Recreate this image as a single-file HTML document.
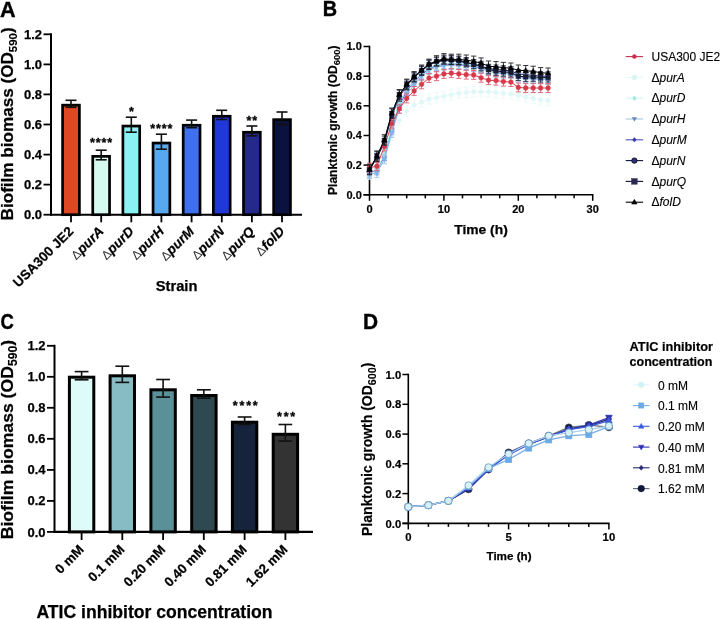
<!DOCTYPE html>
<html><head><meta charset="utf-8"><style>
html,body{margin:0;padding:0;background:#fff;width:720px;height:619px;overflow:hidden}
svg{display:block;font-family:"Liberation Sans", sans-serif;will-change:transform}
</style></head><body>
<svg width="720" height="619" viewBox="0 0 720 619">
<rect width="720" height="619" fill="#fff"/>
<text transform="translate(0.1,16.5) scale(0.97,1)" font-size="22.3" font-weight="bold" stroke="#000" stroke-width="0.4">A</text>
<line x1="51" y1="33.3" x2="51" y2="215.7" stroke="#000" stroke-width="2"/>
<line x1="43.5" y1="214.7" x2="51" y2="214.7" stroke="#000" stroke-width="1.8"/>
<text x="42" y="219.29999999999998" font-size="13" font-weight="bold" font-style="normal" text-anchor="end" fill="#000" stroke="#000" stroke-width="0.25">0.0</text>
<line x1="43.5" y1="184.6" x2="51" y2="184.6" stroke="#000" stroke-width="1.8"/>
<text x="42" y="189.23333333333332" font-size="13" font-weight="bold" font-style="normal" text-anchor="end" fill="#000" stroke="#000" stroke-width="0.25">0.2</text>
<line x1="43.5" y1="154.6" x2="51" y2="154.6" stroke="#000" stroke-width="1.8"/>
<text x="42" y="159.16666666666666" font-size="13" font-weight="bold" font-style="normal" text-anchor="end" fill="#000" stroke="#000" stroke-width="0.25">0.4</text>
<line x1="43.5" y1="124.5" x2="51" y2="124.5" stroke="#000" stroke-width="1.8"/>
<text x="42" y="129.1" font-size="13" font-weight="bold" font-style="normal" text-anchor="end" fill="#000" stroke="#000" stroke-width="0.25">0.6</text>
<line x1="43.5" y1="94.4" x2="51" y2="94.4" stroke="#000" stroke-width="1.8"/>
<text x="42" y="99.03333333333333" font-size="13" font-weight="bold" font-style="normal" text-anchor="end" fill="#000" stroke="#000" stroke-width="0.25">0.8</text>
<line x1="43.5" y1="64.4" x2="51" y2="64.4" stroke="#000" stroke-width="1.8"/>
<text x="42" y="68.96666666666667" font-size="13" font-weight="bold" font-style="normal" text-anchor="end" fill="#000" stroke="#000" stroke-width="0.25">1.0</text>
<line x1="43.5" y1="34.3" x2="51" y2="34.3" stroke="#000" stroke-width="1.8"/>
<text x="42" y="38.899999999999984" font-size="13" font-weight="bold" font-style="normal" text-anchor="end" fill="#000" stroke="#000" stroke-width="0.25">1.2</text>
<line x1="50" y1="214.7" x2="302" y2="214.7" stroke="#000" stroke-width="2"/>
<rect x="62.60" y="105.15" width="16.8" height="109.55" fill="#E04825" stroke="#000" stroke-width="2.7"/>
<line x1="71.0" y1="100.3" x2="71.0" y2="107.3" stroke="#111" stroke-width="1.6"/>
<line x1="65.5" y1="100.3" x2="76.5" y2="100.3" stroke="#111" stroke-width="1.6"/>
<line x1="65.5" y1="107.3" x2="76.5" y2="107.3" stroke="#111" stroke-width="1.6"/>
<line x1="71.0" y1="214.7" x2="71.0" y2="222.3" stroke="#000" stroke-width="1.8"/>
<text transform="translate(74.3,232.2) rotate(-45)" font-size="13.5" font-weight="bold" text-anchor="end" stroke="#000" stroke-width="0.25">USA300 JE2</text>
<rect x="92.75" y="156.35" width="16.8" height="58.35" fill="#D5FAF0" stroke="#000" stroke-width="2.7"/>
<line x1="101.2" y1="150.2" x2="101.2" y2="159.8" stroke="#111" stroke-width="1.6"/>
<line x1="95.7" y1="150.2" x2="106.7" y2="150.2" stroke="#111" stroke-width="1.6"/>
<line x1="95.7" y1="159.8" x2="106.7" y2="159.8" stroke="#111" stroke-width="1.6"/>
<line x1="101.2" y1="214.7" x2="101.2" y2="222.3" stroke="#000" stroke-width="1.8"/>
<text transform="translate(104.5,232.2) rotate(-45)" font-size="13.5" font-weight="bold" text-anchor="end"><tspan font-weight="normal" font-size="12.5" fill="#333">Δ</tspan><tspan font-style="italic" stroke="#000" stroke-width="0.25">purA</tspan></text>
<rect x="122.90" y="126.05" width="16.8" height="88.65" fill="#8AF2F2" stroke="#000" stroke-width="2.7"/>
<line x1="131.3" y1="117.2" x2="131.3" y2="132.2" stroke="#111" stroke-width="1.6"/>
<line x1="125.8" y1="117.2" x2="136.8" y2="117.2" stroke="#111" stroke-width="1.6"/>
<line x1="125.8" y1="132.2" x2="136.8" y2="132.2" stroke="#111" stroke-width="1.6"/>
<line x1="131.3" y1="214.7" x2="131.3" y2="222.3" stroke="#000" stroke-width="1.8"/>
<text transform="translate(134.6,232.2) rotate(-45)" font-size="13.5" font-weight="bold" text-anchor="end"><tspan font-weight="normal" font-size="12.5" fill="#333">Δ</tspan><tspan font-style="italic" stroke="#000" stroke-width="0.25">purD</tspan></text>
<rect x="153.05" y="143.05" width="16.8" height="71.65" fill="#58A8F0" stroke="#000" stroke-width="2.7"/>
<line x1="161.4" y1="134.2" x2="161.4" y2="149.2" stroke="#111" stroke-width="1.6"/>
<line x1="155.9" y1="134.2" x2="166.9" y2="134.2" stroke="#111" stroke-width="1.6"/>
<line x1="155.9" y1="149.2" x2="166.9" y2="149.2" stroke="#111" stroke-width="1.6"/>
<line x1="161.4" y1="214.7" x2="161.4" y2="222.3" stroke="#000" stroke-width="1.8"/>
<text transform="translate(164.8,232.2) rotate(-45)" font-size="13.5" font-weight="bold" text-anchor="end"><tspan font-weight="normal" font-size="12.5" fill="#333">Δ</tspan><tspan font-style="italic" stroke="#000" stroke-width="0.25">purH</tspan></text>
<rect x="183.20" y="125.25" width="16.8" height="89.45" fill="#3E70F0" stroke="#000" stroke-width="2.7"/>
<line x1="191.6" y1="120.1" x2="191.6" y2="127.7" stroke="#111" stroke-width="1.6"/>
<line x1="186.1" y1="120.1" x2="197.1" y2="120.1" stroke="#111" stroke-width="1.6"/>
<line x1="186.1" y1="127.7" x2="197.1" y2="127.7" stroke="#111" stroke-width="1.6"/>
<line x1="191.6" y1="214.7" x2="191.6" y2="222.3" stroke="#000" stroke-width="1.8"/>
<text transform="translate(194.9,232.2) rotate(-45)" font-size="13.5" font-weight="bold" text-anchor="end"><tspan font-weight="normal" font-size="12.5" fill="#333">Δ</tspan><tspan font-style="italic" stroke="#000" stroke-width="0.25">purM</tspan></text>
<rect x="213.35" y="116.25" width="16.8" height="98.45" fill="#2038D8" stroke="#000" stroke-width="2.7"/>
<line x1="221.8" y1="110.3" x2="221.8" y2="119.5" stroke="#111" stroke-width="1.6"/>
<line x1="216.2" y1="110.3" x2="227.2" y2="110.3" stroke="#111" stroke-width="1.6"/>
<line x1="216.2" y1="119.5" x2="227.2" y2="119.5" stroke="#111" stroke-width="1.6"/>
<line x1="221.8" y1="214.7" x2="221.8" y2="222.3" stroke="#000" stroke-width="1.8"/>
<text transform="translate(225.1,232.2) rotate(-45)" font-size="13.5" font-weight="bold" text-anchor="end"><tspan font-weight="normal" font-size="12.5" fill="#333">Δ</tspan><tspan font-style="italic" stroke="#000" stroke-width="0.25">purN</tspan></text>
<rect x="243.50" y="132.25" width="16.8" height="82.45" fill="#252A8A" stroke="#000" stroke-width="2.7"/>
<line x1="251.9" y1="126" x2="251.9" y2="135.8" stroke="#111" stroke-width="1.6"/>
<line x1="246.4" y1="126" x2="257.4" y2="126" stroke="#111" stroke-width="1.6"/>
<line x1="246.4" y1="135.8" x2="257.4" y2="135.8" stroke="#111" stroke-width="1.6"/>
<line x1="251.9" y1="214.7" x2="251.9" y2="222.3" stroke="#000" stroke-width="1.8"/>
<text transform="translate(255.2,232.2) rotate(-45)" font-size="13.5" font-weight="bold" text-anchor="end"><tspan font-weight="normal" font-size="12.5" fill="#333">Δ</tspan><tspan font-style="italic" stroke="#000" stroke-width="0.25">purQ</tspan></text>
<rect x="273.65" y="119.65" width="16.8" height="95.05" fill="#0A1240" stroke="#000" stroke-width="2.7"/>
<line x1="282.0" y1="112" x2="282.0" y2="124.6" stroke="#111" stroke-width="1.6"/>
<line x1="276.5" y1="112" x2="287.5" y2="112" stroke="#111" stroke-width="1.6"/>
<line x1="276.5" y1="124.6" x2="287.5" y2="124.6" stroke="#111" stroke-width="1.6"/>
<line x1="282.0" y1="214.7" x2="282.0" y2="222.3" stroke="#000" stroke-width="1.8"/>
<text transform="translate(285.3,232.2) rotate(-45)" font-size="13.5" font-weight="bold" text-anchor="end"><tspan font-weight="normal" font-size="12.5" fill="#333">Δ</tspan><tspan font-style="italic" stroke="#000" stroke-width="0.25">folD</tspan></text>
<text x="101.6" y="146.8" font-size="12.5" font-weight="bold" font-style="normal" text-anchor="middle" fill="#000" stroke="#000" stroke-width="0.3" letter-spacing="0.9">****</text>
<text x="131.5" y="115.8" font-size="12.5" font-weight="bold" font-style="normal" text-anchor="middle" fill="#000" stroke="#000" stroke-width="0.3">*</text>
<text x="161.8" y="132.8" font-size="12.5" font-weight="bold" font-style="normal" text-anchor="middle" fill="#000" stroke="#000" stroke-width="0.3" letter-spacing="0.9">****</text>
<text x="252.3" y="124.8" font-size="12.5" font-weight="bold" font-style="normal" text-anchor="middle" fill="#000" stroke="#000" stroke-width="0.3" letter-spacing="0.9">**</text>
<text transform="translate(12.9,220.4) rotate(-90)" font-size="17.2" font-weight="bold" stroke="#000" stroke-width="0.25" textLength="193" lengthAdjust="spacingAndGlyphs">Biofilm biomass (OD<tspan font-size="11.5" dy="4.2" stroke-width="0.15">590</tspan><tspan dy="-4.2">)</tspan></text>
<text x="176.6" y="290.8" font-size="14.7" font-weight="bold" font-style="normal" text-anchor="middle" fill="#000" stroke="#000" stroke-width="0.25">Strain</text>
<text transform="translate(322.8,15.9) scale(0.92,1)" font-size="21.6" font-weight="bold" stroke="#000" stroke-width="0.4">B</text>
<line x1="369.5" y1="45.7" x2="369.5" y2="195.8" stroke="#000" stroke-width="1.6"/>
<line x1="363.5" y1="194.8" x2="369.5" y2="194.8" stroke="#000" stroke-width="1.5"/>
<text x="361.8" y="198.70000000000002" font-size="11" font-weight="bold" font-style="normal" text-anchor="end" fill="#000" stroke="#000" stroke-width="0.2">0.0</text>
<line x1="363.5" y1="165.1" x2="369.5" y2="165.1" stroke="#000" stroke-width="1.5"/>
<text x="361.8" y="169.04000000000002" font-size="11" font-weight="bold" font-style="normal" text-anchor="end" fill="#000" stroke="#000" stroke-width="0.2">0.2</text>
<line x1="363.5" y1="135.5" x2="369.5" y2="135.5" stroke="#000" stroke-width="1.5"/>
<text x="361.8" y="139.38000000000002" font-size="11" font-weight="bold" font-style="normal" text-anchor="end" fill="#000" stroke="#000" stroke-width="0.2">0.4</text>
<line x1="363.5" y1="105.8" x2="369.5" y2="105.8" stroke="#000" stroke-width="1.5"/>
<text x="361.8" y="109.72" font-size="11" font-weight="bold" font-style="normal" text-anchor="end" fill="#000" stroke="#000" stroke-width="0.2">0.6</text>
<line x1="363.5" y1="76.2" x2="369.5" y2="76.2" stroke="#000" stroke-width="1.5"/>
<text x="361.8" y="80.06" font-size="11" font-weight="bold" font-style="normal" text-anchor="end" fill="#000" stroke="#000" stroke-width="0.2">0.8</text>
<line x1="363.5" y1="46.5" x2="369.5" y2="46.5" stroke="#000" stroke-width="1.5"/>
<text x="361.8" y="50.4" font-size="11" font-weight="bold" font-style="normal" text-anchor="end" fill="#000" stroke="#000" stroke-width="0.2">1.0</text>
<line x1="363.5" y1="194.8" x2="593.4" y2="194.8" stroke="#000" stroke-width="1.6"/>
<line x1="369.5" y1="194.8" x2="369.5" y2="200.8" stroke="#000" stroke-width="1.5"/>
<text x="369.5" y="212.6" font-size="11" font-weight="bold" font-style="normal" text-anchor="middle" fill="#000" stroke="#000" stroke-width="0.2">0</text>
<line x1="388.1" y1="194.8" x2="388.1" y2="198.3" stroke="#000" stroke-width="1.5"/>
<line x1="406.7" y1="194.8" x2="406.7" y2="198.3" stroke="#000" stroke-width="1.5"/>
<line x1="425.3" y1="194.8" x2="425.3" y2="198.3" stroke="#000" stroke-width="1.5"/>
<line x1="443.9" y1="194.8" x2="443.9" y2="200.8" stroke="#000" stroke-width="1.5"/>
<text x="443.9" y="212.6" font-size="11" font-weight="bold" font-style="normal" text-anchor="middle" fill="#000" stroke="#000" stroke-width="0.2">10</text>
<line x1="462.5" y1="194.8" x2="462.5" y2="198.3" stroke="#000" stroke-width="1.5"/>
<line x1="481.1" y1="194.8" x2="481.1" y2="198.3" stroke="#000" stroke-width="1.5"/>
<line x1="499.7" y1="194.8" x2="499.7" y2="198.3" stroke="#000" stroke-width="1.5"/>
<line x1="518.3" y1="194.8" x2="518.3" y2="200.8" stroke="#000" stroke-width="1.5"/>
<text x="518.3" y="212.6" font-size="11" font-weight="bold" font-style="normal" text-anchor="middle" fill="#000" stroke="#000" stroke-width="0.2">20</text>
<line x1="536.9" y1="194.8" x2="536.9" y2="198.3" stroke="#000" stroke-width="1.5"/>
<line x1="555.5" y1="194.8" x2="555.5" y2="198.3" stroke="#000" stroke-width="1.5"/>
<line x1="574.1" y1="194.8" x2="574.1" y2="198.3" stroke="#000" stroke-width="1.5"/>
<line x1="592.7" y1="194.8" x2="592.7" y2="200.8" stroke="#000" stroke-width="1.5"/>
<text x="592.7" y="212.6" font-size="11" font-weight="bold" font-style="normal" text-anchor="middle" fill="#000" stroke="#000" stroke-width="0.2">30</text>
<text x="481" y="233.7" font-size="13.5" font-weight="bold" font-style="normal" text-anchor="middle" fill="#000" textLength="53.5" lengthAdjust="spacingAndGlyphs" stroke="#000" stroke-width="0.25">Time (h)</text>
<text transform="translate(336.8,195) rotate(-90)" font-size="12.2" font-weight="bold" stroke="#000" stroke-width="0.2" textLength="149.5" lengthAdjust="spacingAndGlyphs">Planktonic growth (OD<tspan font-size="9.5" dy="3.3" stroke-width="0.1">600</tspan><tspan dy="-3.3">)</tspan></text>
<polyline points="369.5,174.0 376.9,172.6 384.4,159.2 391.8,135.5 399.3,120.7 406.7,111.0 414.1,105.1 421.6,102.1 429.0,99.1 436.5,97.7 443.9,96.2 451.3,94.7 458.8,93.2 466.2,92.5 473.7,91.7 481.1,91.7 488.5,91.7 496.0,92.5 503.4,93.2 510.9,94.0 518.3,95.4 525.7,96.9 533.2,98.4 540.6,99.9 548.1,100.6" fill="none" stroke="#E6F8F8" stroke-width="1"/>
<path d="M369.5,168.8V179.2M366.9,168.8h5.2M366.9,179.2h5.2M376.9,167.4V177.7M374.3,167.4h5.2M374.3,177.7h5.2M384.4,154.0V164.4M381.8,154.0h5.2M381.8,164.4h5.2M391.8,130.3V140.7M389.2,130.3h5.2M389.2,140.7h5.2M399.3,115.5V125.8M396.7,115.5h5.2M396.7,125.8h5.2M406.7,105.8V116.2M404.1,105.8h5.2M404.1,116.2h5.2M414.1,99.9V110.3M411.5,99.9h5.2M411.5,110.3h5.2M421.6,96.9V107.3M419.0,96.9h5.2M419.0,107.3h5.2M429.0,94.0V104.3M426.4,94.0h5.2M426.4,104.3h5.2M436.5,92.5V102.9M433.9,92.5h5.2M433.9,102.9h5.2M443.9,91.0V101.4M441.3,91.0h5.2M441.3,101.4h5.2M451.3,89.5V99.9M448.7,89.5h5.2M448.7,99.9h5.2M458.8,88.0V98.4M456.2,88.0h5.2M456.2,98.4h5.2M466.2,87.3V97.7M463.6,87.3h5.2M463.6,97.7h5.2M473.7,86.5V96.9M471.1,86.5h5.2M471.1,96.9h5.2M481.1,86.5V96.9M478.5,86.5h5.2M478.5,96.9h5.2M488.5,86.5V96.9M485.9,86.5h5.2M485.9,96.9h5.2M496.0,87.3V97.7M493.4,87.3h5.2M493.4,97.7h5.2M503.4,88.0V98.4M500.8,88.0h5.2M500.8,98.4h5.2M510.9,88.8V99.1M508.3,88.8h5.2M508.3,99.1h5.2M518.3,90.2V100.6M515.7,90.2h5.2M515.7,100.6h5.2M525.7,91.7V102.1M523.1,91.7h5.2M523.1,102.1h5.2M533.2,93.2V103.6M530.6,93.2h5.2M530.6,103.6h5.2M540.6,94.7V105.1M538.0,94.7h5.2M538.0,105.1h5.2M548.1,95.4V105.8M545.5,95.4h5.2M545.5,105.8h5.2" stroke="#EAF9F9" stroke-width="0.9" fill="none"/>
<path d="M367.2,174.0a2.3,2.3 0 1,0 4.6,0a2.3,2.3 0 1,0 -4.6,0ZM374.6,172.6a2.3,2.3 0 1,0 4.6,0a2.3,2.3 0 1,0 -4.6,0ZM382.1,159.2a2.3,2.3 0 1,0 4.6,0a2.3,2.3 0 1,0 -4.6,0ZM389.5,135.5a2.3,2.3 0 1,0 4.6,0a2.3,2.3 0 1,0 -4.6,0ZM397.0,120.7a2.3,2.3 0 1,0 4.6,0a2.3,2.3 0 1,0 -4.6,0ZM404.4,111.0a2.3,2.3 0 1,0 4.6,0a2.3,2.3 0 1,0 -4.6,0ZM411.8,105.1a2.3,2.3 0 1,0 4.6,0a2.3,2.3 0 1,0 -4.6,0ZM419.3,102.1a2.3,2.3 0 1,0 4.6,0a2.3,2.3 0 1,0 -4.6,0ZM426.7,99.1a2.3,2.3 0 1,0 4.6,0a2.3,2.3 0 1,0 -4.6,0ZM434.2,97.7a2.3,2.3 0 1,0 4.6,0a2.3,2.3 0 1,0 -4.6,0ZM441.6,96.2a2.3,2.3 0 1,0 4.6,0a2.3,2.3 0 1,0 -4.6,0ZM449.0,94.7a2.3,2.3 0 1,0 4.6,0a2.3,2.3 0 1,0 -4.6,0ZM456.5,93.2a2.3,2.3 0 1,0 4.6,0a2.3,2.3 0 1,0 -4.6,0ZM463.9,92.5a2.3,2.3 0 1,0 4.6,0a2.3,2.3 0 1,0 -4.6,0ZM471.4,91.7a2.3,2.3 0 1,0 4.6,0a2.3,2.3 0 1,0 -4.6,0ZM478.8,91.7a2.3,2.3 0 1,0 4.6,0a2.3,2.3 0 1,0 -4.6,0ZM486.2,91.7a2.3,2.3 0 1,0 4.6,0a2.3,2.3 0 1,0 -4.6,0ZM493.7,92.5a2.3,2.3 0 1,0 4.6,0a2.3,2.3 0 1,0 -4.6,0ZM501.1,93.2a2.3,2.3 0 1,0 4.6,0a2.3,2.3 0 1,0 -4.6,0ZM508.6,94.0a2.3,2.3 0 1,0 4.6,0a2.3,2.3 0 1,0 -4.6,0ZM516.0,95.4a2.3,2.3 0 1,0 4.6,0a2.3,2.3 0 1,0 -4.6,0ZM523.4,96.9a2.3,2.3 0 1,0 4.6,0a2.3,2.3 0 1,0 -4.6,0ZM530.9,98.4a2.3,2.3 0 1,0 4.6,0a2.3,2.3 0 1,0 -4.6,0ZM538.3,99.9a2.3,2.3 0 1,0 4.6,0a2.3,2.3 0 1,0 -4.6,0ZM545.8,100.6a2.3,2.3 0 1,0 4.6,0a2.3,2.3 0 1,0 -4.6,0Z" fill="#E0F7F7" stroke="#E0F7F7" stroke-width="0.4"/>
<polyline points="369.5,172.6 376.9,170.3 384.4,156.2 391.8,129.5 399.3,105.8 406.7,91.0 414.1,82.1 421.6,74.7 429.0,68.7 436.5,65.8 443.9,64.3 451.3,64.3 458.8,64.3 466.2,65.0 473.7,66.5 481.1,68.0 488.5,70.2 496.0,71.7 503.4,72.5 510.9,73.2 518.3,76.2 525.7,77.6 533.2,78.4 540.6,79.1 548.1,79.9" fill="none" stroke="#6060C8" stroke-width="1"/>
<path d="M369.5,168.1V177.0M366.9,168.1h5.2M366.9,177.0h5.2M376.9,165.9V174.8M374.3,165.9h5.2M374.3,174.8h5.2M384.4,151.8V160.7M381.8,151.8h5.2M381.8,160.7h5.2M391.8,125.1V134.0M389.2,125.1h5.2M389.2,134.0h5.2M399.3,101.4V110.3M396.7,101.4h5.2M396.7,110.3h5.2M406.7,86.5V95.4M404.1,86.5h5.2M404.1,95.4h5.2M414.1,77.6V86.5M411.5,77.6h5.2M411.5,86.5h5.2M421.6,70.2V79.1M419.0,70.2h5.2M419.0,79.1h5.2M429.0,64.3V73.2M426.4,64.3h5.2M426.4,73.2h5.2M436.5,61.3V70.2M433.9,61.3h5.2M433.9,70.2h5.2M443.9,59.8V68.7M441.3,59.8h5.2M441.3,68.7h5.2M451.3,59.8V68.7M448.7,59.8h5.2M448.7,68.7h5.2M458.8,59.8V68.7M456.2,59.8h5.2M456.2,68.7h5.2M466.2,60.6V69.5M463.6,60.6h5.2M463.6,69.5h5.2M473.7,62.1V71.0M471.1,62.1h5.2M471.1,71.0h5.2M481.1,63.6V72.5M478.5,63.6h5.2M478.5,72.5h5.2M488.5,65.8V74.7M485.9,65.8h5.2M485.9,74.7h5.2M496.0,67.3V76.2M493.4,67.3h5.2M493.4,76.2h5.2M503.4,68.0V76.9M500.8,68.0h5.2M500.8,76.9h5.2M510.9,68.7V77.6M508.3,68.7h5.2M508.3,77.6h5.2M518.3,71.7V80.6M515.7,71.7h5.2M515.7,80.6h5.2M525.7,73.2V82.1M523.1,73.2h5.2M523.1,82.1h5.2M533.2,73.9V82.8M530.6,73.9h5.2M530.6,82.8h5.2M540.6,74.7V83.6M538.0,74.7h5.2M538.0,83.6h5.2M548.1,75.4V84.3M545.5,75.4h5.2M545.5,84.3h5.2" stroke="#8080D8" stroke-width="0.9" fill="none"/>
<path d="M369.5,169.9L371.7,172.6L369.5,175.2L367.3,172.6ZM376.9,167.7L379.1,170.3L376.9,173.0L374.7,170.3ZM384.4,153.6L386.6,156.2L384.4,158.9L382.2,156.2ZM391.8,126.9L394.0,129.5L391.8,132.2L389.6,129.5ZM399.3,103.2L401.5,105.8L399.3,108.5L397.1,105.8ZM406.7,88.4L408.9,91.0L406.7,93.6L404.5,91.0ZM414.1,79.5L416.3,82.1L414.1,84.7L411.9,82.1ZM421.6,72.0L423.8,74.7L421.6,77.3L419.4,74.7ZM429.0,66.1L431.2,68.7L429.0,71.4L426.8,68.7ZM436.5,63.1L438.7,65.8L436.5,68.4L434.3,65.8ZM443.9,61.7L446.1,64.3L443.9,66.9L441.7,64.3ZM451.3,61.7L453.5,64.3L451.3,66.9L449.1,64.3ZM458.8,61.7L461.0,64.3L458.8,66.9L456.6,64.3ZM466.2,62.4L468.4,65.0L466.2,67.7L464.0,65.0ZM473.7,63.9L475.9,66.5L473.7,69.2L471.5,66.5ZM481.1,65.4L483.3,68.0L481.1,70.6L478.9,68.0ZM488.5,67.6L490.7,70.2L488.5,72.9L486.3,70.2ZM496.0,69.1L498.2,71.7L496.0,74.4L493.8,71.7ZM503.4,69.8L505.6,72.5L503.4,75.1L501.2,72.5ZM510.9,70.6L513.1,73.2L510.9,75.8L508.7,73.2ZM518.3,73.5L520.5,76.2L518.3,78.8L516.1,76.2ZM525.7,75.0L527.9,77.6L525.7,80.3L523.5,77.6ZM533.2,75.7L535.4,78.4L533.2,81.0L531.0,78.4ZM540.6,76.5L542.8,79.1L540.6,81.8L538.4,79.1ZM548.1,77.2L550.3,79.9L548.1,82.5L545.9,79.9Z" fill="#5050C0" stroke="#5050C0" stroke-width="0.4"/>
<polyline points="369.5,172.6 376.9,169.6 384.4,154.8 391.8,128.1 399.3,102.9 406.7,89.5 414.1,80.6 421.6,73.2 429.0,68.0 436.5,65.0 443.9,63.6 451.3,63.6 458.8,63.6 466.2,64.3 473.7,65.8 481.1,67.3 488.5,69.5 496.0,71.0 503.4,71.7 510.9,72.5 518.3,76.2 525.7,76.9 533.2,77.6 540.6,78.4 548.1,79.1" fill="none" stroke="#98E8E4" stroke-width="1"/>
<path d="M369.5,168.1V177.0M366.9,168.1h5.2M366.9,177.0h5.2M376.9,165.1V174.0M374.3,165.1h5.2M374.3,174.0h5.2M384.4,150.3V159.2M381.8,150.3h5.2M381.8,159.2h5.2M391.8,123.6V132.5M389.2,123.6h5.2M389.2,132.5h5.2M399.3,98.4V107.3M396.7,98.4h5.2M396.7,107.3h5.2M406.7,85.1V94.0M404.1,85.1h5.2M404.1,94.0h5.2M414.1,76.2V85.1M411.5,76.2h5.2M411.5,85.1h5.2M421.6,68.7V77.6M419.0,68.7h5.2M419.0,77.6h5.2M429.0,63.6V72.5M426.4,63.6h5.2M426.4,72.5h5.2M436.5,60.6V69.5M433.9,60.6h5.2M433.9,69.5h5.2M443.9,59.1V68.0M441.3,59.1h5.2M441.3,68.0h5.2M451.3,59.1V68.0M448.7,59.1h5.2M448.7,68.0h5.2M458.8,59.1V68.0M456.2,59.1h5.2M456.2,68.0h5.2M466.2,59.8V68.7M463.6,59.8h5.2M463.6,68.7h5.2M473.7,61.3V70.2M471.1,61.3h5.2M471.1,70.2h5.2M481.1,62.8V71.7M478.5,62.8h5.2M478.5,71.7h5.2M488.5,65.0V73.9M485.9,65.0h5.2M485.9,73.9h5.2M496.0,66.5V75.4M493.4,66.5h5.2M493.4,75.4h5.2M503.4,67.3V76.2M500.8,67.3h5.2M500.8,76.2h5.2M510.9,68.0V76.9M508.3,68.0h5.2M508.3,76.9h5.2M518.3,71.7V80.6M515.7,71.7h5.2M515.7,80.6h5.2M525.7,72.5V81.4M523.1,72.5h5.2M523.1,81.4h5.2M533.2,73.2V82.1M530.6,73.2h5.2M530.6,82.1h5.2M540.6,73.9V82.8M538.0,73.9h5.2M538.0,82.8h5.2M548.1,74.7V83.6M545.5,74.7h5.2M545.5,83.6h5.2" stroke="#B0EEEA" stroke-width="0.9" fill="none"/>
<path d="M369.5,169.8L371.8,172.6L369.5,175.3L367.2,172.6ZM376.9,166.8L379.2,169.6L376.9,172.3L374.6,169.6ZM384.4,152.0L386.7,154.8L384.4,157.5L382.1,154.8ZM391.8,125.3L394.1,128.1L391.8,130.8L389.5,128.1ZM399.3,100.1L401.6,102.9L399.3,105.6L397.0,102.9ZM406.7,86.7L409.0,89.5L406.7,92.3L404.4,89.5ZM414.1,77.8L416.4,80.6L414.1,83.4L411.8,80.6ZM421.6,70.4L423.9,73.2L421.6,76.0L419.3,73.2ZM429.0,65.2L431.3,68.0L429.0,70.8L426.7,68.0ZM436.5,62.3L438.8,65.0L436.5,67.8L434.2,65.0ZM443.9,60.8L446.2,63.6L443.9,66.3L441.6,63.6ZM451.3,60.8L453.6,63.6L451.3,66.3L449.0,63.6ZM458.8,60.8L461.1,63.6L458.8,66.3L456.5,63.6ZM466.2,61.5L468.5,64.3L466.2,67.1L463.9,64.3ZM473.7,63.0L476.0,65.8L473.7,68.5L471.4,65.8ZM481.1,64.5L483.4,67.3L481.1,70.0L478.8,67.3ZM488.5,66.7L490.8,69.5L488.5,72.2L486.2,69.5ZM496.0,68.2L498.3,71.0L496.0,73.7L493.7,71.0ZM503.4,69.0L505.7,71.7L503.4,74.5L501.1,71.7ZM510.9,69.7L513.2,72.5L510.9,75.2L508.6,72.5ZM518.3,73.4L520.6,76.2L518.3,78.9L516.0,76.2ZM525.7,74.1L528.0,76.9L525.7,79.7L523.4,76.9ZM533.2,74.9L535.5,77.6L533.2,80.4L530.9,77.6ZM540.6,75.6L542.9,78.4L540.6,81.1L538.3,78.4ZM548.1,76.4L550.4,79.1L548.1,81.9L545.8,79.1Z" fill="#98E8E4" stroke="#98E8E4" stroke-width="0.4"/>
<polyline points="369.5,170.3 376.9,157.7 384.4,142.9 391.8,116.2 399.3,96.9 406.7,85.8 414.1,77.6 421.6,71.0 429.0,65.0 436.5,62.1 443.9,60.6 451.3,60.6 458.8,61.3 466.2,62.8 473.7,64.3 481.1,65.8 488.5,68.7 496.0,69.5 503.4,70.2 510.9,71.0 518.3,73.9 525.7,74.7 533.2,75.4 540.6,76.2 548.1,76.2" fill="none" stroke="#1A1A48" stroke-width="1"/>
<path d="M369.5,165.9V174.8M366.9,165.9h5.2M366.9,174.8h5.2M376.9,153.3V162.2M374.3,153.3h5.2M374.3,162.2h5.2M384.4,138.4V147.3M381.8,138.4h5.2M381.8,147.3h5.2M391.8,111.8V120.7M389.2,111.8h5.2M389.2,120.7h5.2M399.3,92.5V101.4M396.7,92.5h5.2M396.7,101.4h5.2M406.7,81.4V90.2M404.1,81.4h5.2M404.1,90.2h5.2M414.1,73.2V82.1M411.5,73.2h5.2M411.5,82.1h5.2M421.6,66.5V75.4M419.0,66.5h5.2M419.0,75.4h5.2M429.0,60.6V69.5M426.4,60.6h5.2M426.4,69.5h5.2M436.5,57.6V66.5M433.9,57.6h5.2M433.9,66.5h5.2M443.9,56.1V65.0M441.3,56.1h5.2M441.3,65.0h5.2M451.3,56.1V65.0M448.7,56.1h5.2M448.7,65.0h5.2M458.8,56.9V65.8M456.2,56.9h5.2M456.2,65.8h5.2M466.2,58.4V67.3M463.6,58.4h5.2M463.6,67.3h5.2M473.7,59.8V68.7M471.1,59.8h5.2M471.1,68.7h5.2M481.1,61.3V70.2M478.5,61.3h5.2M478.5,70.2h5.2M488.5,64.3V73.2M485.9,64.3h5.2M485.9,73.2h5.2M496.0,65.0V73.9M493.4,65.0h5.2M493.4,73.9h5.2M503.4,65.8V74.7M500.8,65.8h5.2M500.8,74.7h5.2M510.9,66.5V75.4M508.3,66.5h5.2M508.3,75.4h5.2M518.3,69.5V78.4M515.7,69.5h5.2M515.7,78.4h5.2M525.7,70.2V79.1M523.1,70.2h5.2M523.1,79.1h5.2M533.2,71.0V79.9M530.6,71.0h5.2M530.6,79.9h5.2M540.6,71.7V80.6M538.0,71.7h5.2M538.0,80.6h5.2M548.1,71.7V80.6M545.5,71.7h5.2M545.5,80.6h5.2" stroke="#404070" stroke-width="0.9" fill="none"/>
<path d="M367.1,170.3a2.4,2.4 0 1,0 4.8,0a2.4,2.4 0 1,0 -4.8,0ZM374.5,157.7a2.4,2.4 0 1,0 4.8,0a2.4,2.4 0 1,0 -4.8,0ZM382.0,142.9a2.4,2.4 0 1,0 4.8,0a2.4,2.4 0 1,0 -4.8,0ZM389.4,116.2a2.4,2.4 0 1,0 4.8,0a2.4,2.4 0 1,0 -4.8,0ZM396.9,96.9a2.4,2.4 0 1,0 4.8,0a2.4,2.4 0 1,0 -4.8,0ZM404.3,85.8a2.4,2.4 0 1,0 4.8,0a2.4,2.4 0 1,0 -4.8,0ZM411.7,77.6a2.4,2.4 0 1,0 4.8,0a2.4,2.4 0 1,0 -4.8,0ZM419.2,71.0a2.4,2.4 0 1,0 4.8,0a2.4,2.4 0 1,0 -4.8,0ZM426.6,65.0a2.4,2.4 0 1,0 4.8,0a2.4,2.4 0 1,0 -4.8,0ZM434.1,62.1a2.4,2.4 0 1,0 4.8,0a2.4,2.4 0 1,0 -4.8,0ZM441.5,60.6a2.4,2.4 0 1,0 4.8,0a2.4,2.4 0 1,0 -4.8,0ZM448.9,60.6a2.4,2.4 0 1,0 4.8,0a2.4,2.4 0 1,0 -4.8,0ZM456.4,61.3a2.4,2.4 0 1,0 4.8,0a2.4,2.4 0 1,0 -4.8,0ZM463.8,62.8a2.4,2.4 0 1,0 4.8,0a2.4,2.4 0 1,0 -4.8,0ZM471.3,64.3a2.4,2.4 0 1,0 4.8,0a2.4,2.4 0 1,0 -4.8,0ZM478.7,65.8a2.4,2.4 0 1,0 4.8,0a2.4,2.4 0 1,0 -4.8,0ZM486.1,68.7a2.4,2.4 0 1,0 4.8,0a2.4,2.4 0 1,0 -4.8,0ZM493.6,69.5a2.4,2.4 0 1,0 4.8,0a2.4,2.4 0 1,0 -4.8,0ZM501.0,70.2a2.4,2.4 0 1,0 4.8,0a2.4,2.4 0 1,0 -4.8,0ZM508.5,71.0a2.4,2.4 0 1,0 4.8,0a2.4,2.4 0 1,0 -4.8,0ZM515.9,73.9a2.4,2.4 0 1,0 4.8,0a2.4,2.4 0 1,0 -4.8,0ZM523.3,74.7a2.4,2.4 0 1,0 4.8,0a2.4,2.4 0 1,0 -4.8,0ZM530.8,75.4a2.4,2.4 0 1,0 4.8,0a2.4,2.4 0 1,0 -4.8,0ZM538.2,76.2a2.4,2.4 0 1,0 4.8,0a2.4,2.4 0 1,0 -4.8,0ZM545.7,76.2a2.4,2.4 0 1,0 4.8,0a2.4,2.4 0 1,0 -4.8,0Z" fill="#303080" stroke="#303080" stroke-width="0.4"/>
<polyline points="369.5,174.0 376.9,173.0 384.4,159.2 391.8,133.0 399.3,108.8 406.7,94.0 414.1,85.1 421.6,76.2 429.0,70.2 436.5,67.3 443.9,65.8 451.3,65.0 458.8,65.0 466.2,65.8 473.7,67.3 481.1,68.7 488.5,71.0 496.0,73.2 503.4,73.9 510.9,73.9 518.3,77.6 525.7,78.4 533.2,79.1 540.6,79.1 548.1,79.9" fill="none" stroke="#88B4E4" stroke-width="1"/>
<path d="M369.5,169.6V178.5M366.9,169.6h5.2M366.9,178.5h5.2M376.9,168.6V177.4M374.3,168.6h5.2M374.3,177.4h5.2M384.4,154.8V163.7M381.8,154.8h5.2M381.8,163.7h5.2M391.8,128.5V137.4M389.2,128.5h5.2M389.2,137.4h5.2M399.3,104.3V113.2M396.7,104.3h5.2M396.7,113.2h5.2M406.7,89.5V98.4M404.1,89.5h5.2M404.1,98.4h5.2M414.1,80.6V89.5M411.5,80.6h5.2M411.5,89.5h5.2M421.6,71.7V80.6M419.0,71.7h5.2M419.0,80.6h5.2M429.0,65.8V74.7M426.4,65.8h5.2M426.4,74.7h5.2M436.5,62.8V71.7M433.9,62.8h5.2M433.9,71.7h5.2M443.9,61.3V70.2M441.3,61.3h5.2M441.3,70.2h5.2M451.3,60.6V69.5M448.7,60.6h5.2M448.7,69.5h5.2M458.8,60.6V69.5M456.2,60.6h5.2M456.2,69.5h5.2M466.2,61.3V70.2M463.6,61.3h5.2M463.6,70.2h5.2M473.7,62.8V71.7M471.1,62.8h5.2M471.1,71.7h5.2M481.1,64.3V73.2M478.5,64.3h5.2M478.5,73.2h5.2M488.5,66.5V75.4M485.9,66.5h5.2M485.9,75.4h5.2M496.0,68.7V77.6M493.4,68.7h5.2M493.4,77.6h5.2M503.4,69.5V78.4M500.8,69.5h5.2M500.8,78.4h5.2M510.9,69.5V78.4M508.3,69.5h5.2M508.3,78.4h5.2M518.3,73.2V82.1M515.7,73.2h5.2M515.7,82.1h5.2M525.7,73.9V82.8M523.1,73.9h5.2M523.1,82.8h5.2M533.2,74.7V83.6M530.6,74.7h5.2M530.6,83.6h5.2M540.6,74.7V83.6M538.0,74.7h5.2M538.0,83.6h5.2M548.1,75.4V84.3M545.5,75.4h5.2M545.5,84.3h5.2" stroke="#A0C4EC" stroke-width="0.9" fill="none"/>
<path d="M369.5,177.0L372.4,172.1L366.6,172.1ZM376.9,176.0L379.8,171.0L374.1,171.0ZM384.4,162.2L387.2,157.3L381.5,157.3ZM391.8,135.9L394.7,131.0L389.0,131.0ZM399.3,111.8L402.1,106.8L396.4,106.8ZM406.7,96.9L409.6,92.0L403.8,92.0ZM414.1,88.0L417.0,83.1L411.3,83.1ZM421.6,79.1L424.4,74.2L418.7,74.2ZM429.0,73.2L431.9,68.3L426.2,68.3ZM436.5,70.3L439.3,65.3L433.6,65.3ZM443.9,68.8L446.8,63.8L441.0,63.8ZM451.3,68.0L454.2,63.1L448.5,63.1ZM458.8,68.0L461.6,63.1L455.9,63.1ZM466.2,68.8L469.1,63.8L463.4,63.8ZM473.7,70.3L476.5,65.3L470.8,65.3ZM481.1,71.7L484.0,66.8L478.2,66.8ZM488.5,74.0L491.4,69.0L485.7,69.0ZM496.0,76.2L498.8,71.2L493.1,71.2ZM503.4,76.9L506.3,72.0L500.6,72.0ZM510.9,76.9L513.7,72.0L508.0,72.0ZM518.3,80.6L521.2,75.7L515.4,75.7ZM525.7,81.4L528.6,76.4L522.9,76.4ZM533.2,82.1L536.0,77.2L530.3,77.2ZM540.6,82.1L543.5,77.2L537.8,77.2ZM548.1,82.9L550.9,77.9L545.2,77.9Z" fill="#80B0E8" stroke="#80B0E8" stroke-width="0.4"/>
<polyline points="369.5,167.7 376.9,166.2 384.4,146.5 391.8,123.6 399.3,108.8 406.7,98.4 414.1,91.0 421.6,84.3 429.0,78.1 436.5,76.2 443.9,73.9 451.3,73.2 458.8,73.9 466.2,74.7 473.7,75.0 481.1,77.8 488.5,80.2 496.0,80.6 503.4,81.6 510.9,82.1 518.3,87.4 525.7,88.0 533.2,88.0 540.6,88.0 548.1,88.0" fill="none" stroke="#D84050" stroke-width="1"/>
<path d="M369.5,163.2V172.1M366.9,163.2h5.2M366.9,172.1h5.2M376.9,161.7V170.6M374.3,161.7h5.2M374.3,170.6h5.2M384.4,142.0V150.9M381.8,142.0h5.2M381.8,150.9h5.2M391.8,119.2V128.1M389.2,119.2h5.2M389.2,128.1h5.2M399.3,104.3V113.2M396.7,104.3h5.2M396.7,113.2h5.2M406.7,94.0V102.9M404.1,94.0h5.2M404.1,102.9h5.2M414.1,86.5V95.4M411.5,86.5h5.2M411.5,95.4h5.2M421.6,79.9V88.8M419.0,79.9h5.2M419.0,88.8h5.2M429.0,73.6V82.5M426.4,73.6h5.2M426.4,82.5h5.2M436.5,71.7V80.6M433.9,71.7h5.2M433.9,80.6h5.2M443.9,69.5V78.4M441.3,69.5h5.2M441.3,78.4h5.2M451.3,68.7V77.6M448.7,68.7h5.2M448.7,77.6h5.2M458.8,69.5V78.4M456.2,69.5h5.2M456.2,78.4h5.2M466.2,70.2V79.1M463.6,70.2h5.2M463.6,79.1h5.2M473.7,70.5V79.4M471.1,70.5h5.2M471.1,79.4h5.2M481.1,73.3V82.2M478.5,73.3h5.2M478.5,82.2h5.2M488.5,75.7V84.6M485.9,75.7h5.2M485.9,84.6h5.2M496.0,76.2V85.1M493.4,76.2h5.2M493.4,85.1h5.2M503.4,77.2V86.1M500.8,77.2h5.2M500.8,86.1h5.2M510.9,77.6V86.5M508.3,77.6h5.2M508.3,86.5h5.2M518.3,83.0V91.9M515.7,83.0h5.2M515.7,91.9h5.2M525.7,83.6V92.5M523.1,83.6h5.2M523.1,92.5h5.2M533.2,83.6V92.5M530.6,83.6h5.2M530.6,92.5h5.2M540.6,83.6V92.5M538.0,83.6h5.2M538.0,92.5h5.2M548.1,83.6V92.5M545.5,83.6h5.2M545.5,92.5h5.2" stroke="#E06070" stroke-width="0.9" fill="none"/>
<path d="M367.1,167.7a2.4,2.4 0 1,0 4.8,0a2.4,2.4 0 1,0 -4.8,0ZM374.5,166.2a2.4,2.4 0 1,0 4.8,0a2.4,2.4 0 1,0 -4.8,0ZM382.0,146.5a2.4,2.4 0 1,0 4.8,0a2.4,2.4 0 1,0 -4.8,0ZM389.4,123.6a2.4,2.4 0 1,0 4.8,0a2.4,2.4 0 1,0 -4.8,0ZM396.9,108.8a2.4,2.4 0 1,0 4.8,0a2.4,2.4 0 1,0 -4.8,0ZM404.3,98.4a2.4,2.4 0 1,0 4.8,0a2.4,2.4 0 1,0 -4.8,0ZM411.7,91.0a2.4,2.4 0 1,0 4.8,0a2.4,2.4 0 1,0 -4.8,0ZM419.2,84.3a2.4,2.4 0 1,0 4.8,0a2.4,2.4 0 1,0 -4.8,0ZM426.6,78.1a2.4,2.4 0 1,0 4.8,0a2.4,2.4 0 1,0 -4.8,0ZM434.1,76.2a2.4,2.4 0 1,0 4.8,0a2.4,2.4 0 1,0 -4.8,0ZM441.5,73.9a2.4,2.4 0 1,0 4.8,0a2.4,2.4 0 1,0 -4.8,0ZM448.9,73.2a2.4,2.4 0 1,0 4.8,0a2.4,2.4 0 1,0 -4.8,0ZM456.4,73.9a2.4,2.4 0 1,0 4.8,0a2.4,2.4 0 1,0 -4.8,0ZM463.8,74.7a2.4,2.4 0 1,0 4.8,0a2.4,2.4 0 1,0 -4.8,0ZM471.3,75.0a2.4,2.4 0 1,0 4.8,0a2.4,2.4 0 1,0 -4.8,0ZM478.7,77.8a2.4,2.4 0 1,0 4.8,0a2.4,2.4 0 1,0 -4.8,0ZM486.1,80.2a2.4,2.4 0 1,0 4.8,0a2.4,2.4 0 1,0 -4.8,0ZM493.6,80.6a2.4,2.4 0 1,0 4.8,0a2.4,2.4 0 1,0 -4.8,0ZM501.0,81.6a2.4,2.4 0 1,0 4.8,0a2.4,2.4 0 1,0 -4.8,0ZM508.5,82.1a2.4,2.4 0 1,0 4.8,0a2.4,2.4 0 1,0 -4.8,0ZM515.9,87.4a2.4,2.4 0 1,0 4.8,0a2.4,2.4 0 1,0 -4.8,0ZM523.3,88.0a2.4,2.4 0 1,0 4.8,0a2.4,2.4 0 1,0 -4.8,0ZM530.8,88.0a2.4,2.4 0 1,0 4.8,0a2.4,2.4 0 1,0 -4.8,0ZM538.2,88.0a2.4,2.4 0 1,0 4.8,0a2.4,2.4 0 1,0 -4.8,0ZM545.7,88.0a2.4,2.4 0 1,0 4.8,0a2.4,2.4 0 1,0 -4.8,0Z" fill="#D83848" stroke="#D83848" stroke-width="0.4"/>
<polyline points="369.5,169.6 376.9,155.6 384.4,140.5 391.8,113.2 399.3,94.7 406.7,84.3 414.1,76.8 421.6,70.2 429.0,64.3 436.5,61.3 443.9,59.6 451.3,59.8 458.8,60.6 466.2,62.1 473.7,64.3 481.1,66.5 488.5,69.5 496.0,71.0 503.4,71.7 510.9,72.5 518.3,76.2 525.7,76.9 533.2,76.9 540.6,77.6 548.1,77.6" fill="none" stroke="#101030" stroke-width="1"/>
<path d="M369.5,165.1V174.0M366.9,165.1h5.2M366.9,174.0h5.2M376.9,151.2V160.1M374.3,151.2h5.2M374.3,160.1h5.2M384.4,136.1V145.0M381.8,136.1h5.2M381.8,145.0h5.2M391.8,108.8V117.7M389.2,108.8h5.2M389.2,117.7h5.2M399.3,90.2V99.1M396.7,90.2h5.2M396.7,99.1h5.2M406.7,79.9V88.8M404.1,79.9h5.2M404.1,88.8h5.2M414.1,72.3V81.2M411.5,72.3h5.2M411.5,81.2h5.2M421.6,65.8V74.7M419.0,65.8h5.2M419.0,74.7h5.2M429.0,59.8V68.7M426.4,59.8h5.2M426.4,68.7h5.2M436.5,56.9V65.8M433.9,56.9h5.2M433.9,65.8h5.2M443.9,55.1V64.0M441.3,55.1h5.2M441.3,64.0h5.2M451.3,55.4V64.3M448.7,55.4h5.2M448.7,64.3h5.2M458.8,56.1V65.0M456.2,56.1h5.2M456.2,65.0h5.2M466.2,57.6V66.5M463.6,57.6h5.2M463.6,66.5h5.2M473.7,59.8V68.7M471.1,59.8h5.2M471.1,68.7h5.2M481.1,62.1V71.0M478.5,62.1h5.2M478.5,71.0h5.2M488.5,65.0V73.9M485.9,65.0h5.2M485.9,73.9h5.2M496.0,66.5V75.4M493.4,66.5h5.2M493.4,75.4h5.2M503.4,67.3V76.2M500.8,67.3h5.2M500.8,76.2h5.2M510.9,68.0V76.9M508.3,68.0h5.2M508.3,76.9h5.2M518.3,71.7V80.6M515.7,71.7h5.2M515.7,80.6h5.2M525.7,72.5V81.4M523.1,72.5h5.2M523.1,81.4h5.2M533.2,72.5V81.4M530.6,72.5h5.2M530.6,81.4h5.2M540.6,73.2V82.1M538.0,73.2h5.2M538.0,82.1h5.2M548.1,73.2V82.1M545.5,73.2h5.2M545.5,82.1h5.2" stroke="#303048" stroke-width="0.9" fill="none"/>
<path d="M367.3,167.4h4.4v4.4h-4.4ZM374.7,153.4h4.4v4.4h-4.4ZM382.2,138.3h4.4v4.4h-4.4ZM389.6,111.0h4.4v4.4h-4.4ZM397.1,92.5h4.4v4.4h-4.4ZM404.5,82.1h4.4v4.4h-4.4ZM411.9,74.6h4.4v4.4h-4.4ZM419.4,68.0h4.4v4.4h-4.4ZM426.8,62.1h4.4v4.4h-4.4ZM434.3,59.1h4.4v4.4h-4.4ZM441.7,57.4h4.4v4.4h-4.4ZM449.1,57.6h4.4v4.4h-4.4ZM456.6,58.4h4.4v4.4h-4.4ZM464.0,59.9h4.4v4.4h-4.4ZM471.5,62.1h4.4v4.4h-4.4ZM478.9,64.3h4.4v4.4h-4.4ZM486.3,67.3h4.4v4.4h-4.4ZM493.8,68.8h4.4v4.4h-4.4ZM501.2,69.5h4.4v4.4h-4.4ZM508.7,70.3h4.4v4.4h-4.4ZM516.1,74.0h4.4v4.4h-4.4ZM523.5,74.7h4.4v4.4h-4.4ZM531.0,74.7h4.4v4.4h-4.4ZM538.4,75.4h4.4v4.4h-4.4ZM545.9,75.4h4.4v4.4h-4.4Z" fill="#141838" stroke="#141838" stroke-width="0.4"/>
<polyline points="369.5,169.6 376.9,156.2 384.4,139.9 391.8,113.2 399.3,94.7 406.7,84.3 414.1,76.8 421.6,70.2 429.0,64.3 436.5,60.9 443.9,58.8 451.3,59.4 458.8,59.4 466.2,60.1 473.7,61.3 481.1,63.1 488.5,66.2 496.0,66.8 503.4,67.6 510.9,68.2 518.3,70.2 525.7,70.7 533.2,71.4 540.6,72.7 548.1,73.2" fill="none" stroke="#000000" stroke-width="1"/>
<path d="M369.5,164.4V174.8M366.9,164.4h5.2M366.9,174.8h5.2M376.9,151.1V161.4M374.3,151.1h5.2M374.3,161.4h5.2M384.4,134.7V145.1M381.8,134.7h5.2M381.8,145.1h5.2M391.8,108.0V118.4M389.2,108.0h5.2M389.2,118.4h5.2M399.3,89.5V99.9M396.7,89.5h5.2M396.7,99.9h5.2M406.7,79.1V89.5M404.1,79.1h5.2M404.1,89.5h5.2M414.1,71.6V81.9M411.5,71.6h5.2M411.5,81.9h5.2M421.6,65.0V75.4M419.0,65.0h5.2M419.0,75.4h5.2M429.0,59.1V69.5M426.4,59.1h5.2M426.4,69.5h5.2M436.5,55.7V66.1M433.9,55.7h5.2M433.9,66.1h5.2M443.9,53.6V64.0M441.3,53.6h5.2M441.3,64.0h5.2M451.3,54.2V64.6M448.7,54.2h5.2M448.7,64.6h5.2M458.8,54.2V64.6M456.2,54.2h5.2M456.2,64.6h5.2M466.2,55.0V65.3M463.6,55.0h5.2M463.6,65.3h5.2M473.7,56.1V66.5M471.1,56.1h5.2M471.1,66.5h5.2M481.1,57.9V68.3M478.5,57.9h5.2M478.5,68.3h5.2M488.5,61.0V71.4M485.9,61.0h5.2M485.9,71.4h5.2M496.0,61.6V72.0M493.4,61.6h5.2M493.4,72.0h5.2M503.4,62.4V72.7M500.8,62.4h5.2M500.8,72.7h5.2M510.9,63.0V73.3M508.3,63.0h5.2M508.3,73.3h5.2M518.3,65.0V75.4M515.7,65.0h5.2M515.7,75.4h5.2M525.7,65.5V75.9M523.1,65.5h5.2M523.1,75.9h5.2M533.2,66.2V76.6M530.6,66.2h5.2M530.6,76.6h5.2M540.6,67.6V77.9M538.0,67.6h5.2M538.0,77.9h5.2M548.1,68.0V78.4M545.5,68.0h5.2M545.5,78.4h5.2" stroke="#202020" stroke-width="0.9" fill="none"/>
<path d="M369.5,166.6L372.4,171.5L366.6,171.5ZM376.9,153.3L379.8,158.2L374.1,158.2ZM384.4,136.9L387.2,141.9L381.5,141.9ZM391.8,110.2L394.7,115.2L389.0,115.2ZM399.3,91.7L402.1,96.6L396.4,96.6ZM406.7,81.3L409.6,86.3L403.8,86.3ZM414.1,73.8L417.0,78.7L411.3,78.7ZM421.6,67.2L424.4,72.2L418.7,72.2ZM429.0,61.3L431.9,66.2L426.2,66.2ZM436.5,57.9L439.3,62.8L433.6,62.8ZM443.9,55.8L446.8,60.8L441.0,60.8ZM451.3,56.4L454.2,61.4L448.5,61.4ZM458.8,56.4L461.6,61.4L455.9,61.4ZM466.2,57.2L469.1,62.1L463.4,62.1ZM473.7,58.3L476.5,63.3L470.8,63.3ZM481.1,60.1L484.0,65.1L478.2,65.1ZM488.5,63.2L491.4,68.2L485.7,68.2ZM496.0,63.8L498.8,68.8L493.1,68.8ZM503.4,64.6L506.3,69.5L500.6,69.5ZM510.9,65.2L513.7,70.1L508.0,70.1ZM518.3,67.2L521.2,72.2L515.4,72.2ZM525.7,67.7L528.6,72.6L522.9,72.6ZM533.2,68.4L536.0,73.4L530.3,73.4ZM540.6,69.8L543.5,74.7L537.8,74.7ZM548.1,70.2L550.9,75.1L545.2,75.1Z" fill="#000000" stroke="#000000" stroke-width="0.4"/>
<line x1="625.7" y1="56.6" x2="643.1" y2="56.6" stroke="#C83050" stroke-width="1.1"/>
<circle cx="634.4" cy="56.6" r="2.0" fill="#C83050" stroke="#C83050" stroke-width="0.5"/>
<text x="651.5" y="60.8" font-size="12" font-weight="normal" stroke="#000" stroke-width="0.12">USA300 JE2</text>
<line x1="625.7" y1="77.4" x2="643.1" y2="77.4" stroke="#E6F8F8" stroke-width="1.1"/>
<circle cx="634.4" cy="77.4" r="2.4" fill="#D8F4F4" stroke="#D8F4F4" stroke-width="0.5"/>
<text x="651.5" y="81.6" font-size="12" font-weight="normal" stroke="#000" stroke-width="0.12">Δ<tspan font-style="italic">purA</tspan></text>
<line x1="625.7" y1="98.2" x2="643.1" y2="98.2" stroke="#D0F4F2" stroke-width="1.1"/>
<path d="M634.4,95.8 L636.4,98.2 L634.4,100.6 L632.4,98.2Z" fill="#A0E8E4" stroke="#A0E8E4" stroke-width="0.5"/>
<text x="651.5" y="102.4" font-size="12" font-weight="normal" stroke="#000" stroke-width="0.12">Δ<tspan font-style="italic">purD</tspan></text>
<line x1="625.7" y1="119.0" x2="643.1" y2="119.0" stroke="#A8C8E0" stroke-width="1.1"/>
<path d="M634.4,121.3 L636.6,117.5 L632.2,117.5Z" fill="#6888B8" stroke="#6888B8" stroke-width="0.5"/>
<text x="651.5" y="123.2" font-size="12" font-weight="normal" stroke="#000" stroke-width="0.12">Δ<tspan font-style="italic">purH</tspan></text>
<line x1="625.7" y1="139.8" x2="643.1" y2="139.8" stroke="#5050C0" stroke-width="1.1"/>
<path d="M634.4,137.5 L636.3,139.8 L634.4,142.1 L632.5,139.8Z" fill="#3838B0" stroke="#3838B0" stroke-width="0.5"/>
<text x="651.5" y="144.0" font-size="12" font-weight="normal" stroke="#000" stroke-width="0.12">Δ<tspan font-style="italic">purM</tspan></text>
<line x1="625.7" y1="160.6" x2="643.1" y2="160.6" stroke="#101040" stroke-width="1.1"/>
<circle cx="634.4" cy="160.6" r="2.7" fill="#303080" stroke="#000" stroke-width="0.8"/>
<text x="651.5" y="164.8" font-size="12" font-weight="normal" stroke="#000" stroke-width="0.12">Δ<tspan font-style="italic">purN</tspan></text>
<line x1="625.7" y1="181.4" x2="643.1" y2="181.4" stroke="#101030" stroke-width="1.1"/>
<rect x="631.6" y="178.6" width="5.6" height="5.6" fill="#2A2A50" stroke="#2A2A50" stroke-width="0.5"/>
<text x="651.5" y="185.6" font-size="12" font-weight="normal" stroke="#000" stroke-width="0.12">Δ<tspan font-style="italic">purQ</tspan></text>
<line x1="625.7" y1="202.2" x2="643.1" y2="202.2" stroke="#000" stroke-width="1.1"/>
<path d="M634.4,199.3 L637.1,204.1 L631.6,204.1Z" fill="#000" stroke="#000" stroke-width="0.5"/>
<text x="651.5" y="206.4" font-size="12" font-weight="normal" stroke="#000" stroke-width="0.12">Δ<tspan font-style="italic">folD</tspan></text>
<text transform="translate(0.5,329.0) scale(0.83,1)" font-size="22.3" font-weight="bold" stroke="#000" stroke-width="0.4">C</text>
<line x1="54.5" y1="344.8" x2="54.5" y2="532.9" stroke="#000" stroke-width="2"/>
<line x1="47" y1="531.9" x2="54.5" y2="531.9" stroke="#000" stroke-width="1.8"/>
<text x="45.5" y="536.5" font-size="13" font-weight="bold" font-style="normal" text-anchor="end" fill="#000" stroke="#000" stroke-width="0.25">0.0</text>
<line x1="47" y1="500.9" x2="54.5" y2="500.9" stroke="#000" stroke-width="1.8"/>
<text x="45.5" y="505.48333333333335" font-size="13" font-weight="bold" font-style="normal" text-anchor="end" fill="#000" stroke="#000" stroke-width="0.25">0.2</text>
<line x1="47" y1="469.9" x2="54.5" y2="469.9" stroke="#000" stroke-width="1.8"/>
<text x="45.5" y="474.4666666666667" font-size="13" font-weight="bold" font-style="normal" text-anchor="end" fill="#000" stroke="#000" stroke-width="0.25">0.4</text>
<line x1="47" y1="438.8" x2="54.5" y2="438.8" stroke="#000" stroke-width="1.8"/>
<text x="45.5" y="443.45" font-size="13" font-weight="bold" font-style="normal" text-anchor="end" fill="#000" stroke="#000" stroke-width="0.25">0.6</text>
<line x1="47" y1="407.8" x2="54.5" y2="407.8" stroke="#000" stroke-width="1.8"/>
<text x="45.5" y="412.43333333333334" font-size="13" font-weight="bold" font-style="normal" text-anchor="end" fill="#000" stroke="#000" stroke-width="0.25">0.8</text>
<line x1="47" y1="376.8" x2="54.5" y2="376.8" stroke="#000" stroke-width="1.8"/>
<text x="45.5" y="381.4166666666667" font-size="13" font-weight="bold" font-style="normal" text-anchor="end" fill="#000" stroke="#000" stroke-width="0.25">1.0</text>
<line x1="47" y1="345.8" x2="54.5" y2="345.8" stroke="#000" stroke-width="1.8"/>
<text x="45.5" y="350.4" font-size="13" font-weight="bold" font-style="normal" text-anchor="end" fill="#000" stroke="#000" stroke-width="0.25">1.2</text>
<line x1="53.5" y1="531.9" x2="313" y2="531.9" stroke="#000" stroke-width="2.2"/>
<rect x="69.4" y="377.2" width="24.4" height="154.7" fill="#DDFBF8" stroke="#000" stroke-width="3"/>
<line x1="81.6" y1="371.6" x2="81.6" y2="379.8" stroke="#111" stroke-width="1.6"/>
<line x1="74.7" y1="371.6" x2="88.5" y2="371.6" stroke="#111" stroke-width="1.6"/>
<line x1="74.7" y1="379.8" x2="88.5" y2="379.8" stroke="#111" stroke-width="1.6"/>
<line x1="81.6" y1="531.9" x2="81.6" y2="540" stroke="#000" stroke-width="1.8"/>
<text transform="translate(84.6,550.5) rotate(-45)" font-size="13.3" font-weight="bold" text-anchor="end" stroke="#000" stroke-width="0.25">0 mM</text>
<rect x="110.1" y="375.8" width="24.4" height="156.1" fill="#88BCC4" stroke="#000" stroke-width="3"/>
<line x1="122.3" y1="366.2" x2="122.3" y2="382.4" stroke="#111" stroke-width="1.6"/>
<line x1="115.4" y1="366.2" x2="129.2" y2="366.2" stroke="#111" stroke-width="1.6"/>
<line x1="115.4" y1="382.4" x2="129.2" y2="382.4" stroke="#111" stroke-width="1.6"/>
<line x1="122.3" y1="531.9" x2="122.3" y2="540" stroke="#000" stroke-width="1.8"/>
<text transform="translate(125.3,550.5) rotate(-45)" font-size="13.3" font-weight="bold" text-anchor="end" stroke="#000" stroke-width="0.25">0.1 mM</text>
<rect x="150.9" y="389.8" width="24.4" height="142.1" fill="#5A9098" stroke="#000" stroke-width="3"/>
<line x1="163.1" y1="379.5" x2="163.1" y2="397.1" stroke="#111" stroke-width="1.6"/>
<line x1="156.2" y1="379.5" x2="170.0" y2="379.5" stroke="#111" stroke-width="1.6"/>
<line x1="156.2" y1="397.1" x2="170.0" y2="397.1" stroke="#111" stroke-width="1.6"/>
<line x1="163.1" y1="531.9" x2="163.1" y2="540" stroke="#000" stroke-width="1.8"/>
<text transform="translate(166.1,550.5) rotate(-45)" font-size="13.3" font-weight="bold" text-anchor="end" stroke="#000" stroke-width="0.25">0.20 mM</text>
<rect x="191.7" y="395.5" width="24.4" height="136.4" fill="#2E4A50" stroke="#000" stroke-width="3"/>
<line x1="203.8" y1="389.8" x2="203.8" y2="398.2" stroke="#111" stroke-width="1.6"/>
<line x1="196.9" y1="389.8" x2="210.8" y2="389.8" stroke="#111" stroke-width="1.6"/>
<line x1="196.9" y1="398.2" x2="210.8" y2="398.2" stroke="#111" stroke-width="1.6"/>
<line x1="203.8" y1="531.9" x2="203.8" y2="540" stroke="#000" stroke-width="1.8"/>
<text transform="translate(206.8,550.5) rotate(-45)" font-size="13.3" font-weight="bold" text-anchor="end" stroke="#000" stroke-width="0.25">0.40 mM</text>
<rect x="232.4" y="422.2" width="24.4" height="109.7" fill="#15243A" stroke="#000" stroke-width="3"/>
<line x1="244.6" y1="417" x2="244.6" y2="424.4" stroke="#111" stroke-width="1.6"/>
<line x1="237.7" y1="417" x2="251.5" y2="417" stroke="#111" stroke-width="1.6"/>
<line x1="237.7" y1="424.4" x2="251.5" y2="424.4" stroke="#111" stroke-width="1.6"/>
<line x1="244.6" y1="531.9" x2="244.6" y2="540" stroke="#000" stroke-width="1.8"/>
<text transform="translate(247.6,550.5) rotate(-45)" font-size="13.3" font-weight="bold" text-anchor="end" stroke="#000" stroke-width="0.25">0.81 mM</text>
<rect x="273.2" y="434.3" width="24.4" height="97.6" fill="#333333" stroke="#000" stroke-width="3"/>
<line x1="285.4" y1="424.5" x2="285.4" y2="441.1" stroke="#111" stroke-width="1.6"/>
<line x1="278.5" y1="424.5" x2="292.2" y2="424.5" stroke="#111" stroke-width="1.6"/>
<line x1="278.5" y1="441.1" x2="292.2" y2="441.1" stroke="#111" stroke-width="1.6"/>
<line x1="285.4" y1="531.9" x2="285.4" y2="540" stroke="#000" stroke-width="1.8"/>
<text transform="translate(288.4,550.5) rotate(-45)" font-size="13.3" font-weight="bold" text-anchor="end" stroke="#000" stroke-width="0.25">1.62 mM</text>
<text x="246.2" y="410.2" font-size="12.5" font-weight="bold" font-style="normal" text-anchor="middle" fill="#000" stroke="#000" stroke-width="0.3" letter-spacing="1.8">****</text>
<text x="287" y="420.7" font-size="12.5" font-weight="bold" font-style="normal" text-anchor="middle" fill="#000" stroke="#000" stroke-width="0.3" letter-spacing="1.8">***</text>
<text transform="translate(12.9,539.3) rotate(-90)" font-size="17.3" font-weight="bold" stroke="#000" stroke-width="0.25" textLength="199.5" lengthAdjust="spacingAndGlyphs">Biofilm biomass (OD<tspan font-size="12" dy="4.2" stroke-width="0.15">590</tspan><tspan dy="-4.2">)</tspan></text>
<text x="154.5" y="618.2" font-size="17.6" font-weight="bold" font-style="normal" text-anchor="middle" fill="#000" stroke="#000" stroke-width="0.25">ATIC inhibitor concentration</text>
<text transform="translate(362.9,329.2) scale(0.95,1)" font-size="22" font-weight="bold" stroke="#000" stroke-width="0.4">D</text>
<line x1="408.3" y1="373.7" x2="408.3" y2="524.4" stroke="#000" stroke-width="1.6"/>
<line x1="402.4" y1="523.4" x2="408.3" y2="523.4" stroke="#000" stroke-width="1.5"/>
<text x="401.2" y="527.5" font-size="11.3" font-weight="bold" font-style="normal" text-anchor="end" fill="#000" stroke="#000" stroke-width="0.2">0.0</text>
<line x1="402.4" y1="493.6" x2="408.3" y2="493.6" stroke="#000" stroke-width="1.5"/>
<text x="401.2" y="497.72" font-size="11.3" font-weight="bold" font-style="normal" text-anchor="end" fill="#000" stroke="#000" stroke-width="0.2">0.2</text>
<line x1="402.4" y1="463.8" x2="408.3" y2="463.8" stroke="#000" stroke-width="1.5"/>
<text x="401.2" y="467.94" font-size="11.3" font-weight="bold" font-style="normal" text-anchor="end" fill="#000" stroke="#000" stroke-width="0.2">0.4</text>
<line x1="402.4" y1="434.1" x2="408.3" y2="434.1" stroke="#000" stroke-width="1.5"/>
<text x="401.2" y="438.15999999999997" font-size="11.3" font-weight="bold" font-style="normal" text-anchor="end" fill="#000" stroke="#000" stroke-width="0.2">0.6</text>
<line x1="402.4" y1="404.3" x2="408.3" y2="404.3" stroke="#000" stroke-width="1.5"/>
<text x="401.2" y="408.38" font-size="11.3" font-weight="bold" font-style="normal" text-anchor="end" fill="#000" stroke="#000" stroke-width="0.2">0.8</text>
<line x1="402.4" y1="374.5" x2="408.3" y2="374.5" stroke="#000" stroke-width="1.5"/>
<text x="401.2" y="378.6" font-size="11.3" font-weight="bold" font-style="normal" text-anchor="end" fill="#000" stroke="#000" stroke-width="0.2">1.0</text>
<line x1="402.4" y1="523.4" x2="609.6" y2="523.4" stroke="#000" stroke-width="1.6"/>
<line x1="408.3" y1="523.4" x2="408.3" y2="529.4" stroke="#000" stroke-width="1.5"/>
<text x="408.3" y="540.7" font-size="11.3" font-weight="bold" font-style="normal" text-anchor="middle" fill="#000" stroke="#000" stroke-width="0.2">0</text>
<line x1="428.4" y1="523.4" x2="428.4" y2="526.9" stroke="#000" stroke-width="1.5"/>
<line x1="448.4" y1="523.4" x2="448.4" y2="526.9" stroke="#000" stroke-width="1.5"/>
<line x1="468.5" y1="523.4" x2="468.5" y2="526.9" stroke="#000" stroke-width="1.5"/>
<line x1="488.5" y1="523.4" x2="488.5" y2="526.9" stroke="#000" stroke-width="1.5"/>
<line x1="508.6" y1="523.4" x2="508.6" y2="529.4" stroke="#000" stroke-width="1.5"/>
<text x="508.6" y="540.7" font-size="11.3" font-weight="bold" font-style="normal" text-anchor="middle" fill="#000" stroke="#000" stroke-width="0.2">5</text>
<line x1="528.7" y1="523.4" x2="528.7" y2="526.9" stroke="#000" stroke-width="1.5"/>
<line x1="548.7" y1="523.4" x2="548.7" y2="526.9" stroke="#000" stroke-width="1.5"/>
<line x1="568.8" y1="523.4" x2="568.8" y2="526.9" stroke="#000" stroke-width="1.5"/>
<line x1="588.8" y1="523.4" x2="588.8" y2="526.9" stroke="#000" stroke-width="1.5"/>
<line x1="608.9" y1="523.4" x2="608.9" y2="529.4" stroke="#000" stroke-width="1.5"/>
<text x="608.9" y="540.7" font-size="11.3" font-weight="bold" font-style="normal" text-anchor="middle" fill="#000" stroke="#000" stroke-width="0.2">10</text>
<text x="509" y="560.1" font-size="11.5" font-weight="bold" font-style="normal" text-anchor="middle" fill="#000" textLength="45" lengthAdjust="spacingAndGlyphs" stroke="#000" stroke-width="0.25">Time (h)</text>
<text transform="translate(372.2,536) rotate(-90)" font-size="14.3" font-weight="bold" stroke="#000" stroke-width="0.2" textLength="173.5" lengthAdjust="spacingAndGlyphs">Planktonic growth (OD<tspan font-size="11" dy="3.8" stroke-width="0.1">600</tspan><tspan dy="-3.8">)</tspan></text>
<polyline points="408.3,506.9 428.4,505.2 448.4,500.8 468.5,489.2 488.5,469.3 508.6,452.5 528.7,443.4 548.7,435.8 568.8,427.5 588.8,425.1 608.9,427.2" fill="none" stroke="#6A7080" stroke-width="1.3"/>
<circle cx="408.3" cy="506.9" r="3.6" fill="#101838" stroke="#404858" stroke-width="0.8"/>
<circle cx="428.4" cy="505.2" r="3.6" fill="#101838" stroke="#404858" stroke-width="0.8"/>
<circle cx="448.4" cy="500.8" r="3.6" fill="#101838" stroke="#404858" stroke-width="0.8"/>
<circle cx="468.5" cy="489.2" r="3.6" fill="#101838" stroke="#404858" stroke-width="0.8"/>
<circle cx="488.5" cy="469.3" r="3.6" fill="#101838" stroke="#404858" stroke-width="0.8"/>
<circle cx="508.6" cy="452.5" r="3.6" fill="#101838" stroke="#404858" stroke-width="0.8"/>
<circle cx="528.7" cy="443.4" r="3.6" fill="#101838" stroke="#404858" stroke-width="0.8"/>
<circle cx="548.7" cy="435.8" r="3.6" fill="#101838" stroke="#404858" stroke-width="0.8"/>
<circle cx="568.8" cy="427.5" r="3.6" fill="#101838" stroke="#404858" stroke-width="0.8"/>
<circle cx="588.8" cy="425.1" r="3.6" fill="#101838" stroke="#404858" stroke-width="0.8"/>
<circle cx="608.9" cy="427.2" r="3.6" fill="#101838" stroke="#404858" stroke-width="0.8"/>
<polyline points="408.3,506.9 428.4,505.2 448.4,500.8 468.5,489.2 488.5,469.3 508.6,453.4 528.7,444.5 548.7,437.0 568.8,428.8 588.8,425.9 608.9,419.2" fill="none" stroke="#2A2A70" stroke-width="1.3"/>
<path d="M408.3,503.5 L411.1,506.9 L408.3,510.2 L405.5,506.9Z" fill="#2A2A70" stroke="#2A2A70" stroke-width="0.8"/>
<path d="M428.4,501.9 L431.2,505.2 L428.4,508.6 L425.6,505.2Z" fill="#2A2A70" stroke="#2A2A70" stroke-width="0.8"/>
<path d="M448.4,497.4 L451.2,500.8 L448.4,504.1 L445.6,500.8Z" fill="#2A2A70" stroke="#2A2A70" stroke-width="0.8"/>
<path d="M468.5,485.8 L471.3,489.2 L468.5,492.5 L465.7,489.2Z" fill="#2A2A70" stroke="#2A2A70" stroke-width="0.8"/>
<path d="M488.5,466.0 L491.3,469.3 L488.5,472.7 L485.7,469.3Z" fill="#2A2A70" stroke="#2A2A70" stroke-width="0.8"/>
<path d="M508.6,450.1 L511.4,453.4 L508.6,456.8 L505.8,453.4Z" fill="#2A2A70" stroke="#2A2A70" stroke-width="0.8"/>
<path d="M528.7,441.1 L531.5,444.5 L528.7,447.8 L525.9,444.5Z" fill="#2A2A70" stroke="#2A2A70" stroke-width="0.8"/>
<path d="M548.7,433.7 L551.5,437.0 L548.7,440.4 L545.9,437.0Z" fill="#2A2A70" stroke="#2A2A70" stroke-width="0.8"/>
<path d="M568.8,425.5 L571.6,428.8 L568.8,432.2 L566.0,428.8Z" fill="#2A2A70" stroke="#2A2A70" stroke-width="0.8"/>
<path d="M588.8,422.5 L591.6,425.9 L588.8,429.2 L586.0,425.9Z" fill="#2A2A70" stroke="#2A2A70" stroke-width="0.8"/>
<path d="M608.9,415.8 L611.7,419.2 L608.9,422.5 L606.1,419.2Z" fill="#2A2A70" stroke="#2A2A70" stroke-width="0.8"/>
<polyline points="408.3,506.9 428.4,505.2 448.4,500.8 468.5,488.4 488.5,469.8 508.6,453.4 528.7,443.7 548.7,436.3 568.8,429.6 588.8,425.1 608.9,417.5" fill="none" stroke="#3030B0" stroke-width="1.3"/>
<path d="M408.3,510.3 L411.6,504.6 L405.0,504.6Z" fill="#3030B0" stroke="#3030B0" stroke-width="0.8"/>
<path d="M428.4,508.7 L431.7,503.0 L425.1,503.0Z" fill="#3030B0" stroke="#3030B0" stroke-width="0.8"/>
<path d="M448.4,504.2 L451.7,498.5 L445.1,498.5Z" fill="#3030B0" stroke="#3030B0" stroke-width="0.8"/>
<path d="M468.5,491.9 L471.8,486.2 L465.2,486.2Z" fill="#3030B0" stroke="#3030B0" stroke-width="0.8"/>
<path d="M488.5,473.2 L491.8,467.5 L485.2,467.5Z" fill="#3030B0" stroke="#3030B0" stroke-width="0.8"/>
<path d="M508.6,456.9 L511.9,451.2 L505.3,451.2Z" fill="#3030B0" stroke="#3030B0" stroke-width="0.8"/>
<path d="M528.7,447.2 L532.0,441.5 L525.4,441.5Z" fill="#3030B0" stroke="#3030B0" stroke-width="0.8"/>
<path d="M548.7,439.7 L552.0,434.0 L545.4,434.0Z" fill="#3030B0" stroke="#3030B0" stroke-width="0.8"/>
<path d="M568.8,433.0 L572.1,427.3 L565.5,427.3Z" fill="#3030B0" stroke="#3030B0" stroke-width="0.8"/>
<path d="M588.8,428.6 L592.1,422.9 L585.5,422.9Z" fill="#3030B0" stroke="#3030B0" stroke-width="0.8"/>
<path d="M608.9,421.0 L612.2,415.3 L605.6,415.3Z" fill="#3030B0" stroke="#3030B0" stroke-width="0.8"/>
<polyline points="408.3,506.9 428.4,505.2 448.4,500.8 468.5,487.7 488.5,469.1 508.6,454.9 528.7,444.5 548.7,436.3 568.8,429.6 588.8,426.6 608.9,420.7" fill="none" stroke="#3A5AD8" stroke-width="1.3"/>
<path d="M408.3,503.4 L411.6,509.1 L405.0,509.1Z" fill="#3A5AD8" stroke="#3A5AD8" stroke-width="0.8"/>
<path d="M428.4,501.8 L431.7,507.5 L425.1,507.5Z" fill="#3A5AD8" stroke="#3A5AD8" stroke-width="0.8"/>
<path d="M448.4,497.3 L451.7,503.0 L445.1,503.0Z" fill="#3A5AD8" stroke="#3A5AD8" stroke-width="0.8"/>
<path d="M468.5,484.2 L471.8,489.9 L465.2,489.9Z" fill="#3A5AD8" stroke="#3A5AD8" stroke-width="0.8"/>
<path d="M488.5,465.6 L491.8,471.3 L485.2,471.3Z" fill="#3A5AD8" stroke="#3A5AD8" stroke-width="0.8"/>
<path d="M508.6,451.5 L511.9,457.2 L505.3,457.2Z" fill="#3A5AD8" stroke="#3A5AD8" stroke-width="0.8"/>
<path d="M528.7,441.0 L532.0,446.7 L525.4,446.7Z" fill="#3A5AD8" stroke="#3A5AD8" stroke-width="0.8"/>
<path d="M548.7,432.8 L552.0,438.5 L545.4,438.5Z" fill="#3A5AD8" stroke="#3A5AD8" stroke-width="0.8"/>
<path d="M568.8,426.1 L572.1,431.8 L565.5,431.8Z" fill="#3A5AD8" stroke="#3A5AD8" stroke-width="0.8"/>
<path d="M588.8,423.2 L592.1,428.9 L585.5,428.9Z" fill="#3A5AD8" stroke="#3A5AD8" stroke-width="0.8"/>
<path d="M608.9,417.2 L612.2,422.9 L605.6,422.9Z" fill="#3A5AD8" stroke="#3A5AD8" stroke-width="0.8"/>
<polyline points="408.3,506.9 428.4,505.2 448.4,500.8 468.5,486.2 488.5,468.3 508.6,459.5 528.7,448.1 548.7,439.9 568.8,435.8 588.8,434.4 608.9,426.6" fill="none" stroke="#78AEE8" stroke-width="1.3"/>
<rect x="405.3" y="503.9" width="6.0" height="6.0" fill="#6AAAE8" stroke="#6AAAE8" stroke-width="0.8"/>
<rect x="425.4" y="502.2" width="6.0" height="6.0" fill="#6AAAE8" stroke="#6AAAE8" stroke-width="0.8"/>
<rect x="445.4" y="497.8" width="6.0" height="6.0" fill="#6AAAE8" stroke="#6AAAE8" stroke-width="0.8"/>
<rect x="465.5" y="483.2" width="6.0" height="6.0" fill="#6AAAE8" stroke="#6AAAE8" stroke-width="0.8"/>
<rect x="485.5" y="465.3" width="6.0" height="6.0" fill="#6AAAE8" stroke="#6AAAE8" stroke-width="0.8"/>
<rect x="505.6" y="456.5" width="6.0" height="6.0" fill="#6AAAE8" stroke="#6AAAE8" stroke-width="0.8"/>
<rect x="525.7" y="445.1" width="6.0" height="6.0" fill="#6AAAE8" stroke="#6AAAE8" stroke-width="0.8"/>
<rect x="545.7" y="436.9" width="6.0" height="6.0" fill="#6AAAE8" stroke="#6AAAE8" stroke-width="0.8"/>
<rect x="565.8" y="432.8" width="6.0" height="6.0" fill="#6AAAE8" stroke="#6AAAE8" stroke-width="0.8"/>
<rect x="585.8" y="431.4" width="6.0" height="6.0" fill="#6AAAE8" stroke="#6AAAE8" stroke-width="0.8"/>
<rect x="605.9" y="423.6" width="6.0" height="6.0" fill="#6AAAE8" stroke="#6AAAE8" stroke-width="0.8"/>
<polyline points="408.3,506.9 428.4,505.2 448.4,500.8 468.5,485.4 488.5,467.3 508.6,454.0 528.7,443.4 548.7,435.8 568.8,432.7 588.8,429.6 608.9,426.0" fill="none" stroke="#A8D0E8" stroke-width="1.3"/>
<circle cx="408.3" cy="506.9" r="3.6" fill="#D6F2F8" stroke="#6898C0" stroke-width="0.8"/>
<circle cx="428.4" cy="505.2" r="3.6" fill="#D6F2F8" stroke="#6898C0" stroke-width="0.8"/>
<circle cx="448.4" cy="500.8" r="3.6" fill="#D6F2F8" stroke="#6898C0" stroke-width="0.8"/>
<circle cx="468.5" cy="485.4" r="3.6" fill="#D6F2F8" stroke="#6898C0" stroke-width="0.8"/>
<circle cx="488.5" cy="467.3" r="3.6" fill="#D6F2F8" stroke="#6898C0" stroke-width="0.8"/>
<circle cx="508.6" cy="454.0" r="3.6" fill="#D6F2F8" stroke="#6898C0" stroke-width="0.8"/>
<circle cx="528.7" cy="443.4" r="3.6" fill="#D6F2F8" stroke="#6898C0" stroke-width="0.8"/>
<circle cx="548.7" cy="435.8" r="3.6" fill="#D6F2F8" stroke="#6898C0" stroke-width="0.8"/>
<circle cx="568.8" cy="432.7" r="3.6" fill="#D6F2F8" stroke="#6898C0" stroke-width="0.8"/>
<circle cx="588.8" cy="429.6" r="3.6" fill="#D6F2F8" stroke="#6898C0" stroke-width="0.8"/>
<circle cx="608.9" cy="426.0" r="3.6" fill="#D6F2F8" stroke="#6898C0" stroke-width="0.8"/>
<text x="629.6" y="350.7" font-size="12.3" font-weight="bold" font-style="normal" text-anchor="start" fill="#000" textLength="83.3" lengthAdjust="spacingAndGlyphs" stroke="#000" stroke-width="0.2">ATIC inhibitor</text>
<text x="629.6" y="366" font-size="12.3" font-weight="bold" font-style="normal" text-anchor="start" fill="#000" textLength="82.8" lengthAdjust="spacingAndGlyphs" stroke="#000" stroke-width="0.2">concentration</text>
<line x1="633" y1="384.8" x2="649.5" y2="384.8" stroke="#E0F6F8" stroke-width="1.1"/>
<circle cx="641.2" cy="384.8" r="2.8" fill="#D0F2F4" stroke="#D0F2F4" stroke-width="0.5"/>
<text x="658" y="389.5" font-size="12" font-weight="normal" stroke="#000" stroke-width="0.12">0 mM</text>
<line x1="633" y1="405.6" x2="649.5" y2="405.6" stroke="#78AEE8" stroke-width="1.1"/>
<rect x="638.6" y="402.9" width="5.2" height="5.2" fill="#6AAAE8" stroke="#6AAAE8" stroke-width="0.5"/>
<text x="658" y="410.2" font-size="12" font-weight="normal" stroke="#000" stroke-width="0.12">0.1 mM</text>
<line x1="633" y1="426.3" x2="649.5" y2="426.3" stroke="#3A5AD8" stroke-width="1.1"/>
<path d="M641.2,423.4 L644.0,428.2 L638.5,428.2Z" fill="#3A5AD8" stroke="#3A5AD8" stroke-width="0.5"/>
<text x="658" y="431.0" font-size="12" font-weight="normal" stroke="#000" stroke-width="0.12">0.20 mM</text>
<line x1="633" y1="447.1" x2="649.5" y2="447.1" stroke="#3030B0" stroke-width="1.1"/>
<path d="M641.2,449.9 L644.0,445.2 L638.5,445.2Z" fill="#3030B0" stroke="#3030B0" stroke-width="0.5"/>
<text x="658" y="451.8" font-size="12" font-weight="normal" stroke="#000" stroke-width="0.12">0.40 mM</text>
<line x1="633" y1="467.8" x2="649.5" y2="467.8" stroke="#2A2A70" stroke-width="1.1"/>
<path d="M641.2,465.3 L643.3,467.8 L641.2,470.3 L639.1,467.8Z" fill="#2A2A70" stroke="#2A2A70" stroke-width="0.5"/>
<text x="658" y="472.5" font-size="12" font-weight="normal" stroke="#000" stroke-width="0.12">0.81 mM</text>
<line x1="633" y1="488.6" x2="649.5" y2="488.6" stroke="#606878" stroke-width="1.1"/>
<circle cx="641.2" cy="488.6" r="3.3" fill="#101838" stroke="#101838" stroke-width="0.5"/>
<text x="658" y="493.2" font-size="12" font-weight="normal" stroke="#000" stroke-width="0.12">1.62 mM</text>
</svg></body></html>
